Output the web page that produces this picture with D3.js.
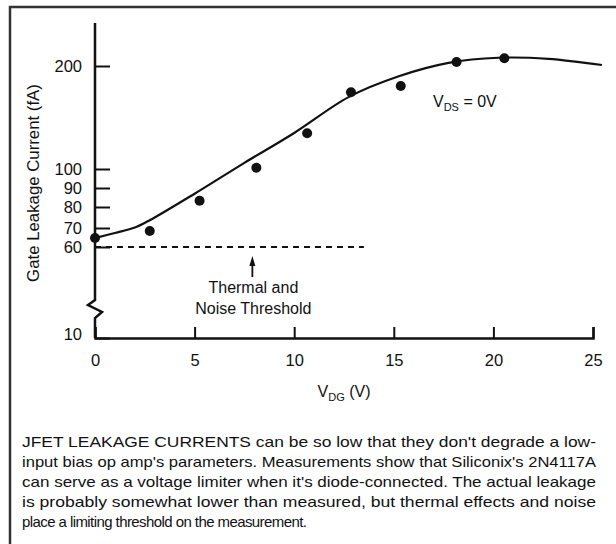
<!DOCTYPE html>
<html>
<head>
<meta charset="utf-8">
<script src="https://cdn.jsdelivr.net/npm/d3@7"></script>
<style>
  body { margin: 0; background: #fff; }
  svg text { font-family: "Liberation Sans", Arial, Helvetica, sans-serif; fill: #111; }
</style>
</head>
<body>
<div id="chart"></div>
<script>
// measured points (V_DG in volts, leakage in fA)
const measV = [0, 2.75, 5.25, 8.1, 10.65, 12.85, 15.35, 18.15, 20.55];
const measI = [64.7, 68.4, 83.3, 101.3, 134.7, 174.5, 180.6, 203.9, 207.5];

// fitted curve
const curveV = [0, 1, 2, 2.75, 5, 7.5, 10, 12.75, 15.25, 17.75, 20.25, 22.75, 25.45];
const curveI = [64.7, 67.4, 70.2, 73.7, 87, 106, 135, 170, 190, 203, 208, 207, 201];

const xTicks = [0, 5, 10, 15, 20, 25];
const yTicks = [10, 60, 70, 80, 90, 100, 200];
const threshold = 60;
const thresholdEnd = 13.5;
const arrowV = 7.9;

const caption = [
  "JFET LEAKAGE CURRENTS can be so low that they don't degrade a low-",
  "input bias op amp's parameters. Measurements show that Siliconix's 2N4117A",
  "can serve as a voltage limiter when it's diode-connected. The actual leakage",
  "is probably somewhat lower than measured, but thermal effects and noise",
  "place a limiting threshold on the measurement."
];

const W = 616, H = 544;
const svg = d3.select("#chart").append("svg")
  .attr("width", W).attr("height", H);

// frame
svg.append("rect")
  .attr("x", 10).attr("y", 7)
  .attr("width", 700).attr("height", 700)
  .attr("fill", "none").attr("stroke", "#333").attr("stroke-width", 2.5);

const xScale = d3.scaleLinear().domain([0, 25]).range([95, 593]);
// hand-drawn axis: the ticks below 100 are evenly spaced, so the scale is piecewise
const yScale = d3.scaleLinear()
  .domain(yTicks)
  .range([338, 247, 228, 207, 188, 169, 66]);

const g = svg.append("g");

// x axis
const xAxis = d3.axisBottom(xScale)
  .tickValues(xTicks)
  .tickSizeInner(-11)
  .tickSizeOuter(-11)
  .tickPadding(16);

g.append("g")
  .attr("class", "x-axis")
  .attr("transform", `translate(0, ${yScale(10)})`)
  .call(xAxis)
  .call(s => {
    s.select(".domain").attr("stroke", "#111").attr("stroke-width", 2.5);
    s.selectAll(".tick line").attr("stroke", "#111").attr("stroke-width", 2);
    s.selectAll(".tick text").attr("font-size", 16.5).attr("fill", "#111")
      .attr("font-family", "Liberation Sans, Arial, sans-serif");
  });

// y axis
const yAxis = d3.axisLeft(yScale)
  .tickValues(yTicks)
  .tickSizeInner(-15)
  .tickSizeOuter(0)
  .tickPadding(13);

g.append("g")
  .attr("class", "y-axis")
  .attr("transform", `translate(${xScale(0)}, 0)`)
  .call(yAxis)
  .call(s => {
    s.select(".domain").remove();
    s.selectAll(".tick line").attr("stroke", "#111").attr("stroke-width", 2);
    s.selectAll(".tick text").attr("font-size", 16.5).attr("fill", "#111")
      .attr("font-family", "Liberation Sans, Arial, sans-serif");
    s.selectAll(".tick").filter(d => d === 10).select("text").attr("dy", "0.1em");
  });

// y axis line with break
const x0 = xScale(0), yb = yScale(10);
const axisPath = d3.path();
axisPath.moveTo(x0, 23);
axisPath.lineTo(x0, yb - 38);
axisPath.lineTo(x0 - 7, yb - 33);
axisPath.lineTo(x0 + 7, yb - 26);
axisPath.lineTo(x0, yb - 20);
axisPath.lineTo(x0, yb);
g.append("path")
  .attr("d", axisPath.toString())
  .attr("fill", "none").attr("stroke", "#111").attr("stroke-width", 2.5)
  .attr("stroke-linejoin", "miter");

// threshold
g.append("line")
  .attr("x1", xScale(0)).attr("x2", xScale(thresholdEnd))
  .attr("y1", yScale(threshold)).attr("y2", yScale(threshold))
  .attr("stroke", "#111").attr("stroke-width", 2)
  .attr("stroke-dasharray", "6,5");

const ax = xScale(arrowV), ay = yScale(threshold);
g.append("line")
  .attr("x1", ax).attr("x2", ax)
  .attr("y1", ay + 30).attr("y2", ay + 17)
  .attr("stroke", "#111").attr("stroke-width", 1.8);
g.append("path")
  .attr("d", `M${ax},${ay + 9} L${ax - 3},${ay + 19} L${ax + 3},${ay + 19} Z`)
  .attr("fill", "#111");

g.append("text")
  .attr("x", ax + 1).attr("y", ay + 46)
  .attr("text-anchor", "middle").attr("font-size", 16)
  .text("Thermal and");
g.append("text")
  .attr("x", ax + 1).attr("y", ay + 67)
  .attr("text-anchor", "middle").attr("font-size", 16)
  .text("Noise Threshold");

// curve
const curveData = curveV.map((v, i) => ({ v, i: curveI[i] }));
const line = d3.line()
  .x(d => xScale(d.v))
  .y(d => yScale(d.i))
  .curve(d3.curveCatmullRom.alpha(0.5));

g.append("path")
  .datum(curveData)
  .attr("d", line)
  .attr("fill", "none").attr("stroke", "#111").attr("stroke-width", 2.2);

// points
const measData = measV.map((v, i) => ({ v, i: measI[i] }));
g.selectAll("circle.pt")
  .data(measData)
  .join("circle")
  .attr("class", "pt")
  .attr("cx", d => xScale(d.v))
  .attr("cy", d => yScale(d.i))
  .attr("r", 5)
  .attr("fill", "#111");

// V_DS label
const vds = g.append("text")
  .attr("x", 433).attr("y", 107).attr("font-size", 16);
vds.append("tspan").text("V");
vds.append("tspan").attr("font-size", 11).attr("dy", 4).text("DS");
vds.append("tspan").attr("dy", -4).text(" = 0V");

// axis titles
const xt = g.append("text")
  .attr("x", xScale(12.5)).attr("y", 397)
  .attr("text-anchor", "middle").attr("font-size", 16);
xt.append("tspan").text("V");
xt.append("tspan").attr("font-size", 11).attr("dy", 4).text("DG");
xt.append("tspan").attr("dy", -4).text(" (V)");

g.append("text")
  .attr("transform", "translate(39, 183) rotate(-90)")
  .attr("text-anchor", "middle").attr("font-size", 16.8)
  .text("Gate Leakage Current (fA)");

// caption (justified lines, last line left as is)
svg.append("g")
  .selectAll("text")
  .data(caption)
  .join("text")
  .attr("x", 22)
  .attr("y", (d, i) => 447 + i * 20)
  .attr("font-size", 15)
  .attr("textLength", (d, i) => i < 4 ? 574 : 285)
  .attr("lengthAdjust", (d, i) => i < 4 ? "spacingAndGlyphs" : "spacing")
  .text(d => d);
</script>
</body>
</html>
